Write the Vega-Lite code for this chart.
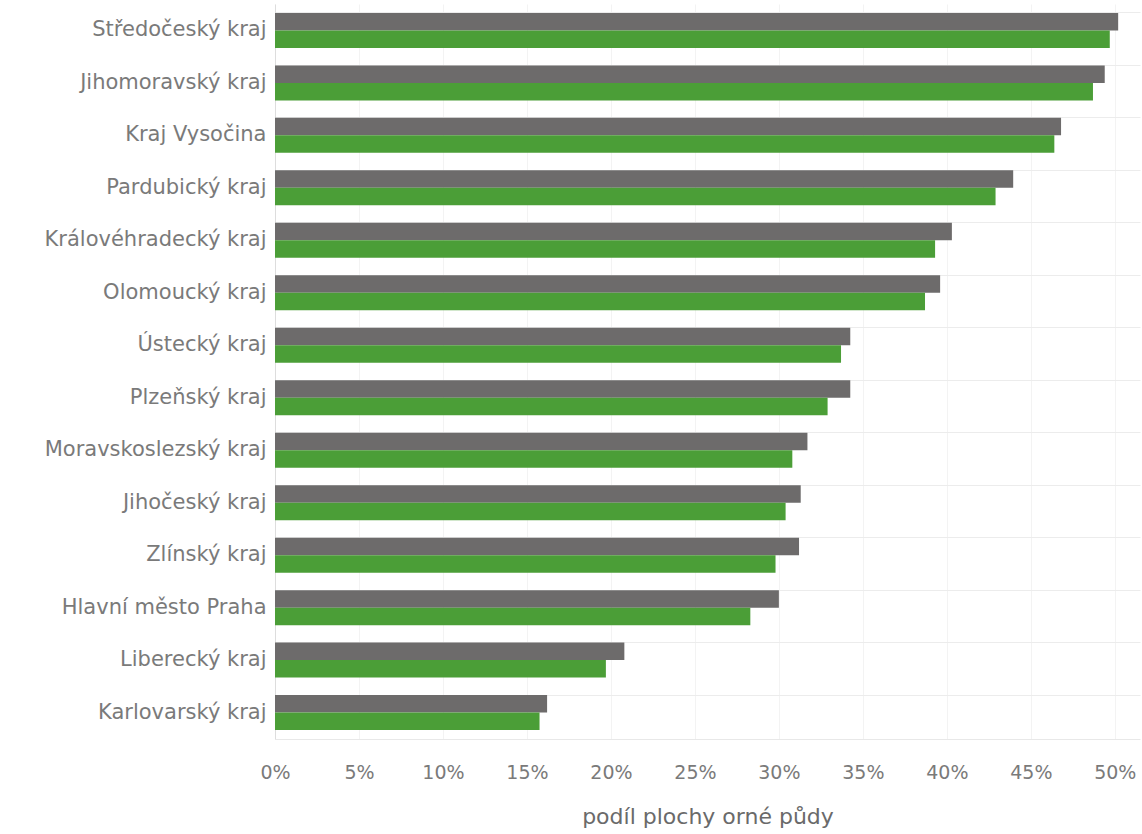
{
  "$schema": "https://vega.github.io/schema/vega-lite/v6.json",
  "width": 865,
  "height": 735,
  "autosize": {"type": "none"},
  "padding": {"left": 275, "top": 4, "right": 2, "bottom": 95},
  "background": "white",
  "config": {"view": {"stroke": null}, "font": "DejaVu Sans"},
  "data": {"values": [
    {"kraj": "Středočeský kraj", "obdobi": "A", "podil": 0.502},
    {"kraj": "Středočeský kraj", "obdobi": "B", "podil": 0.497},
    {"kraj": "Jihomoravský kraj", "obdobi": "A", "podil": 0.494},
    {"kraj": "Jihomoravský kraj", "obdobi": "B", "podil": 0.487},
    {"kraj": "Kraj Vysočina", "obdobi": "A", "podil": 0.468},
    {"kraj": "Kraj Vysočina", "obdobi": "B", "podil": 0.464},
    {"kraj": "Pardubický kraj", "obdobi": "A", "podil": 0.4395},
    {"kraj": "Pardubický kraj", "obdobi": "B", "podil": 0.429},
    {"kraj": "Královéhradecký kraj", "obdobi": "A", "podil": 0.403},
    {"kraj": "Královéhradecký kraj", "obdobi": "B", "podil": 0.393},
    {"kraj": "Olomoucký kraj", "obdobi": "A", "podil": 0.396},
    {"kraj": "Olomoucký kraj", "obdobi": "B", "podil": 0.387},
    {"kraj": "Ústecký kraj", "obdobi": "A", "podil": 0.3425},
    {"kraj": "Ústecký kraj", "obdobi": "B", "podil": 0.337},
    {"kraj": "Plzeňský kraj", "obdobi": "A", "podil": 0.3425},
    {"kraj": "Plzeňský kraj", "obdobi": "B", "podil": 0.329},
    {"kraj": "Moravskoslezský kraj", "obdobi": "A", "podil": 0.317},
    {"kraj": "Moravskoslezský kraj", "obdobi": "B", "podil": 0.308},
    {"kraj": "Jihočeský kraj", "obdobi": "A", "podil": 0.313},
    {"kraj": "Jihočeský kraj", "obdobi": "B", "podil": 0.304},
    {"kraj": "Zlínský kraj", "obdobi": "A", "podil": 0.312},
    {"kraj": "Zlínský kraj", "obdobi": "B", "podil": 0.298},
    {"kraj": "Hlavní město Praha", "obdobi": "A", "podil": 0.300},
    {"kraj": "Hlavní město Praha", "obdobi": "B", "podil": 0.283},
    {"kraj": "Liberecký kraj", "obdobi": "A", "podil": 0.208},
    {"kraj": "Liberecký kraj", "obdobi": "B", "podil": 0.197},
    {"kraj": "Karlovarský kraj", "obdobi": "A", "podil": 0.162},
    {"kraj": "Karlovarský kraj", "obdobi": "B", "podil": 0.1575}
  ]},
  "mark": {"type": "bar"},
  "encoding": {
    "y": {
      "field": "kraj", "type": "nominal", "sort": null,
      "scale": {"paddingInner": 0.333, "paddingOuter": 0.17},
      "axis": {
        "title": null, "ticks": false, "labelFontSize": 21, "labelColor": "#7a7a7a",
        "labelPadding": 9, "domainColor": "#dddddd", "grid": true, "gridColor": "#ececec",
        "bandPosition": 0, "labelLimit": 400
      }
    },
    "yOffset": {"field": "obdobi", "type": "nominal", "scale": {"paddingInner": 0, "paddingOuter": 0}},
    "x": {
      "field": "podil", "type": "quantitative",
      "scale": {"domain": [0, 0.515], "nice": false, "zero": true},
      "axis": {
        "title": "podíl plochy orné půdy", "format": ".0%",
        "values": [0, 0.05, 0.1, 0.15, 0.2, 0.25, 0.3, 0.35, 0.4, 0.45, 0.5],
        "ticks": false, "labelFontSize": 19, "labelColor": "#7a7a7a", "labelPadding": 24,
        "titleFontSize": 22, "titleFontWeight": "normal", "titleColor": "#6a6a6a", "titlePadding": 24,
        "domainColor": "#e8e8e8", "grid": true, "gridColor": "#f3f3f3", "labelFlush": false
      }
    },
    "color": {
      "field": "obdobi", "type": "nominal", "legend": null,
      "scale": {"domain": ["A", "B"], "range": ["#6d6b6b", "#4b9e37"]}
    }
  }
}
